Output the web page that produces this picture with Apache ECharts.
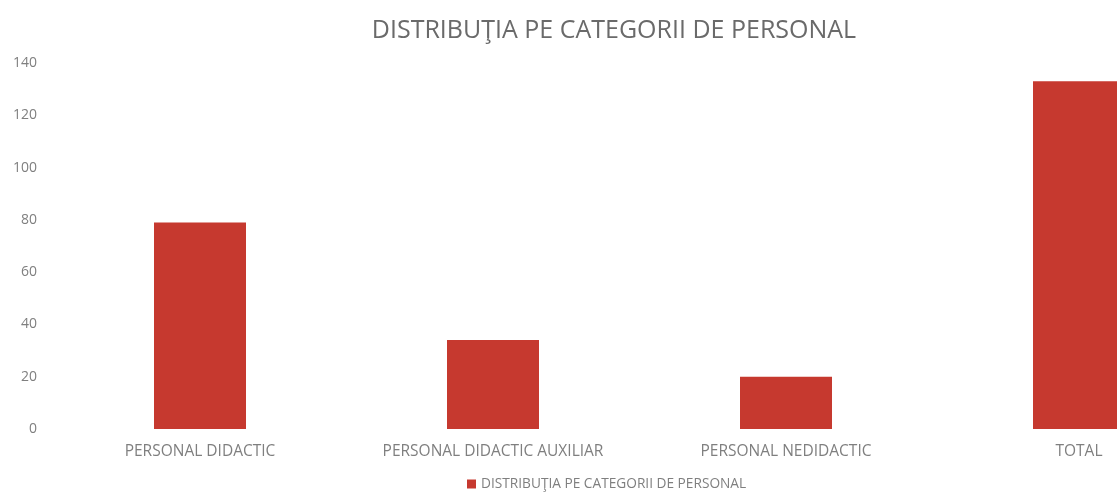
<!DOCTYPE html>
<html>
<head>
<meta charset="utf-8">
<title>Distributia pe categorii de personal</title>
<script src="https://cdn.jsdelivr.net/npm/echarts@6/dist/echarts.min.js"></script>
<style>
  html, body { margin: 0; padding: 0; background: #fff; overflow: hidden; }
  /* graficul original e taiat in dreapta, deci facem div-ul mai lat */
  #main { width: 1226px; height: 497px; }
</style>
</head>
<body>
<div id="main"></div>
<script>
// date
var categorii = ['PERSONAL DIDACTIC', 'PERSONAL DIDACTIC AUXILIAR', 'PERSONAL NEDIDACTIC', 'TOTAL'];
var valori = [79, 34, 20, 133];
var numeSerie = 'DISTRIBUŢIA PE CATEGORII DE PERSONAL';

var font = '"Open Sans", "Noto Sans", sans-serif';
var gri = '#7f7f7f';

var myChart = echarts.init(document.getElementById('main'));

var option = {
  backgroundColor: '#fff',
  textStyle: { fontFamily: font },
  title: {
    text: numeSerie,
    left: 609,
    textAlign: 'center',
    top: 13,
    textStyle: { fontFamily: font, fontSize: 25, fontWeight: 'normal', color: '#6a6a6a' }
  },
  legend: {
    data: [numeSerie],
    left: 462,
    top: 472,
    itemWidth: 9,
    itemHeight: 9,
    itemGap: 5,
    icon: 'rect',
    textStyle: { fontFamily: font, fontSize: 13.7, color: gri }
  },
  grid: {
    left: 53.5,
    right: 0.5,
    top: 63,
    bottom: 68,
    containLabel: false
  },
  xAxis: {
    type: 'category',
    data: categorii,
    axisLine: { show: false },
    axisTick: { show: false },
    axisLabel: { fontFamily: font, fontSize: 15.5, color: gri, margin: 15 }
  },
  yAxis: {
    type: 'value',
    min: 0,
    max: 140,
    interval: 20,
    splitLine: { show: false },
    axisLine: { show: false },
    axisTick: { show: false },
    axisLabel: { fontFamily: font, fontSize: 14, color: gri, margin: 16.5 }
  },
  series: [
    {
      name: numeSerie,
      type: 'bar',
      data: valori,
      barWidth: 92,
      itemStyle: { color: '#c6392f' }
    }
  ]
};

myChart.setOption(option);
</script>
</body>
</html>
